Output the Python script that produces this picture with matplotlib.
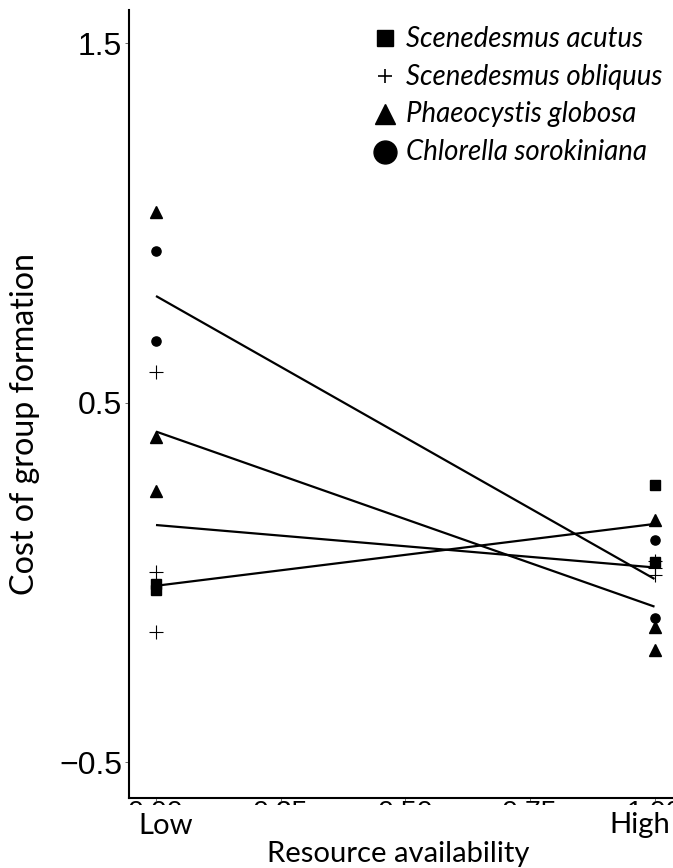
import matplotlib
matplotlib.use("Agg")
import matplotlib.pyplot as plt
from matplotlib.lines import Line2D
from matplotlib.patches import Rectangle

# ---------------- data ----------------
species = ["Scenedesmus acutus", "Scenedesmus obliquus",
           "Phaeocystis globosa", "Chlorella sorokiniana"]

low_acutus = [-0.003, -0.021]
high_acutus = [0.271, 0.057]
low_obliquus = [0.587, 0.030, -0.137]
high_obliquus = [0.060, 0.040, 0.021]
low_globosa = [1.032, 0.406, 0.256]
high_globosa = [0.174, -0.124, -0.188]
low_sorokiniana = [0.922, 0.673]
high_sorokiniana = [0.118, -0.099]

# fitted regression line values at low (x=0) and high (x=1) resource
fit_low = [-0.009, 0.160, 0.420, 0.797]
fit_high = [0.163, 0.042, -0.067, 0.010]

x_low, x_high = 0.0, 1.0
y_ticks = [-0.5, 0.5, 1.5]
y_tick_labels = ["\u22120.5", "0.5", "1.5"]
x_ticks = [0.0, 0.25, 0.5, 0.75, 1.0]
x_tick_labels = ["0.00", "0.25", "0.50", "0.75", "1.00"]
level_labels = ["Low", "High"]
x_title = "Resource availability"
y_title = "Cost of group formation"

low_vals = [low_acutus, low_obliquus, low_globosa, low_sorokiniana]
high_vals = [high_acutus, high_obliquus, high_globosa, high_sorokiniana]

# ---------------- style ----------------
W, H = 673, 868
fig = plt.figure(figsize=(W / 100, H / 100), dpi=100)
sans = ["Liberation Sans", "DejaVu Sans"]
hum = ["Lato", "DejaVu Sans"]

ax = fig.add_axes([129 / W, 1 - 798 / H, 1 - 129 / W, (798 - 10) / H])
ax.set_xlim((129 - 156) / 498.5, (673 - 156) / 498.5)
ax.set_ylim(-0.5993, 1.5926)

data_marker = {"s": dict(marker="s", markersize=6.6),
               "+": dict(marker="+", markersize=9.5, markeredgewidth=0.8),
               "^": dict(marker="^", markersize=8.8),
               "o": dict(marker="o", markersize=6.6)}
mkeys = ["s", "+", "^", "o"]

for i in range(4):
    ax.plot([x_low, x_high], [fit_low[i], fit_high[i]], color="black",
            lw=1.6, solid_capstyle="butt", zorder=2)
for i, k in enumerate(mkeys):
    ys = low_vals[i] + high_vals[i]
    xs = [x_low] * len(low_vals[i]) + [x_high] * len(high_vals[i])
    ax.plot(xs, ys, linestyle="none", color="black", zorder=3,
            clip_on=False, **data_marker[k])

for s in ["top", "right"]:
    ax.spines[s].set_visible(False)
for s in ["left", "bottom"]:
    ax.spines[s].set_linewidth(1.5)
    ax.spines[s].set_color("black")

ax.set_yticks(y_ticks)
ax.set_yticklabels(y_tick_labels, fontfamily=sans, fontsize=23)
ax.set_xticks(x_ticks)
ax.set_xticklabels(x_tick_labels, fontfamily=sans, fontsize=20.5)
ax.tick_params(axis="y", length=3, width=0.6, color="#555555", pad=2)
ax.tick_params(axis="x", length=2.5, width=0.6, color="#555555", pad=-1.3)

# white band hiding most of the numeric x tick labels
fig.add_artist(Rectangle((0.0, 0.0), 1.0, (H - 805) / H,
                         transform=fig.transFigure, facecolor="white",
                         edgecolor="none", zorder=5))

# level labels and axis titles
t_low = fig.text(166 / W, (H - 833.5) / H, level_labels[0], ha="center",
                 va="baseline", fontfamily=hum, fontsize=20, zorder=6)
t_high = fig.text(640 / W, (H - 833.5) / H, level_labels[1], ha="center",
                  va="baseline", fontfamily=hum, fontsize=20, zorder=6)
t_xl = fig.text(398 / W, (H - 862) / H, x_title,
                ha="center", va="baseline", fontfamily=hum, fontsize=20,
                zorder=6)
t_yl = fig.text(25 / W, (H - 424) / H, y_title,
                ha="center", va="center", rotation=90, fontfamily=hum,
                fontsize=20, zorder=6)

# legend (manual, figure pixel layout)
leg_marker = {"s": dict(marker="s", markersize=11.5),
              "+": dict(marker="+", markersize=9.5, markeredgewidth=1.2),
              "^": dict(marker="^", markersize=14),
              "o": dict(marker="o", markersize=16.5)}
leg_texts = []
for i, k in enumerate(mkeys):
    base = 46.7 + i * 37.8
    fig.add_artist(Line2D([385 / W], [1 - (base - 8.5) / H], color="black",
                          linestyle="none", transform=fig.transFigure,
                          **leg_marker[k]))
    leg_texts.append(fig.text(406 / W, 1 - base / H, species[i], ha="left",
                              va="baseline", fontfamily=hum, style="italic",
                              fontsize=19))

# fit text sizes to the measured lengths
fig.canvas.draw()
r = fig.canvas.get_renderer()


def fit(t, target, vertical=False):
    bb = t.get_window_extent(r)
    size = bb.height if vertical else bb.width
    t.set_fontsize(t.get_fontsize() * target / size)


fit(t_xl, 263)
for t in (t_low, t_high):
    t.set_fontsize(t_xl.get_fontsize())
fit(t_yl, 342, vertical=True)
targets = [230, 260, 230, 245]
tot_w = sum(t.get_window_extent(r).width for t in leg_texts)
ratio = sum(targets) / tot_w
for t in leg_texts:
    t.set_fontsize(t.get_fontsize() * ratio)

fig.savefig("out.png", dpi=100)
